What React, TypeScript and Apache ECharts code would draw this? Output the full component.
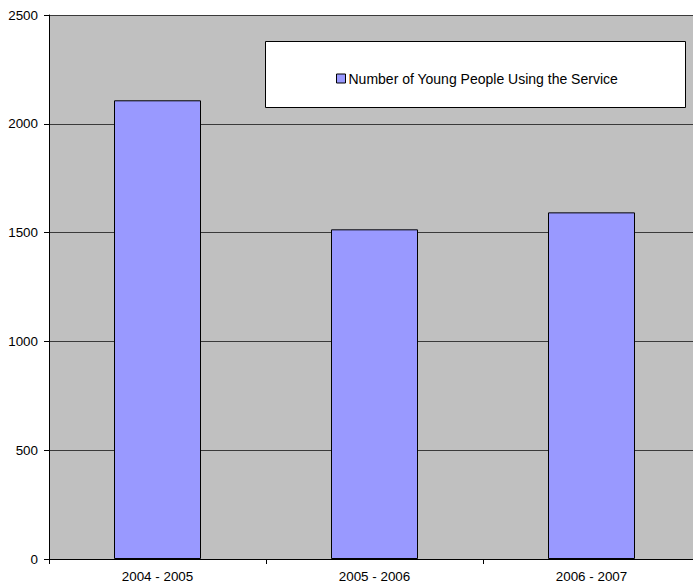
import React, { useEffect, useRef } from "react";
import * as echarts from "echarts";

const categories = ["2004 - 2005", "2005 - 2006", "2006 - 2007"];
const youngPeople = [2108, 1515, 1593];
const seriesName = "Number of Young People Using the Service";

export default function App() {
  const ref = useRef<HTMLDivElement>(null);

  useEffect(() => {
    if (!ref.current) return;
    const chart = echarts.init(ref.current, undefined, { renderer: "svg" });
    const font = "'Liberation Sans', Arial, sans-serif";
    const fs = 13.4;
    chart.setOption({
      animation: false,
      backgroundColor: "#ffffff",
      textStyle: { fontFamily: font },
      grid: {
        left: 49,
        top: 15,
        height: 544,
        width: 651,
        outerBoundsMode: "none",
        containLabel: false,
        show: true,
        backgroundColor: "#c0c0c0",
        borderWidth: 0,
      },
      graphic: [
        {
          type: "rect",
          z: 5,
          shape: { x: 265.5, y: 41.5, width: 420, height: 66 },
          style: { fill: "#ffffff", stroke: "#000000", lineWidth: 1 },
        },
      ],
      legend: {
        z: 10,
        left: 331,
        top: 66.5,
        itemWidth: 9,
        itemHeight: 9,
        icon: "rect",
        data: [seriesName],
        textStyle: { fontSize: 14, color: "#000000", fontFamily: font, padding: [0, 0, 0, -2] },
        itemStyle: { borderColor: "#000000", borderWidth: 1 },
      },
      xAxis: {
        type: "category",
        data: categories,
        boundaryGap: true,
        axisLine: { show: true, lineStyle: { color: "#000000", width: 1 } },
        axisTick: { show: true, alignWithLabel: false, length: 5, lineStyle: { color: "#000000" } },
        axisLabel: { fontSize: fs, color: "#000000", margin: 11, fontFamily: font },
        splitLine: { show: false },
      },
      yAxis: {
        type: "value",
        min: 0,
        max: 2500,
        interval: 500,
        axisLine: { show: true, lineStyle: { color: "#000000", width: 1 } },
        axisTick: { show: true, length: 5, lineStyle: { color: "#000000" } },
        axisLabel: {
          fontSize: fs,
          color: "#000000",
          margin: 11,
          fontFamily: font,
          formatter: (v: number) => String(v),
        },
        splitLine: { show: true, lineStyle: { color: "#3a3a3a", width: 1 } },
      },
      series: [
        {
          name: seriesName,
          type: "bar",
          data: youngPeople,
          barWidth: 87,
          itemStyle: { color: "#9999ff", borderColor: "#000000", borderWidth: 1 },
        },
      ],
    });
    return () => chart.dispose();
  }, []);

  return (
    <div
      ref={ref}
      style={{ position: "fixed", left: 0, top: 0, width: 693, height: 587 }}
    />
  );
}
